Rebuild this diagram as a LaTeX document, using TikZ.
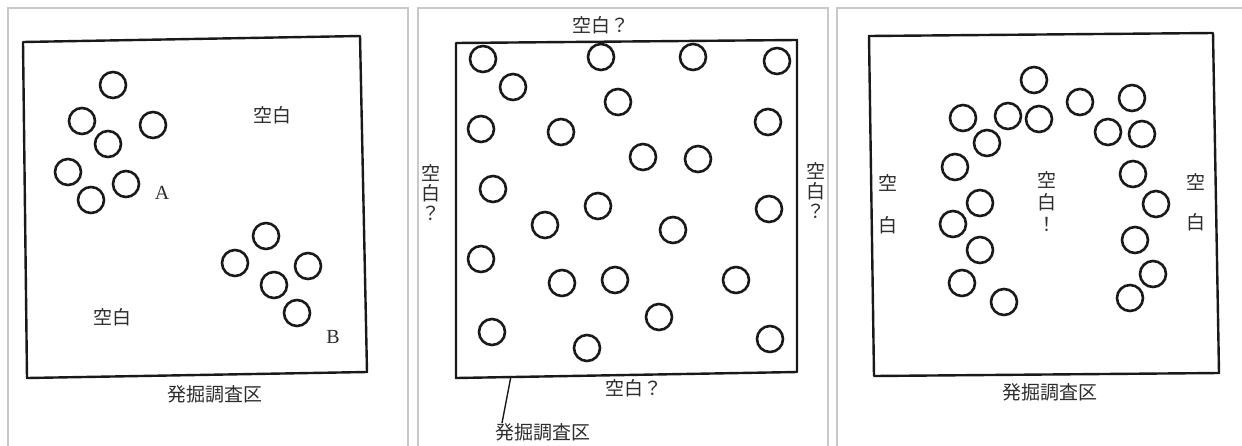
\documentclass[tikz,border=0pt]{standalone}
\usepackage{fontspec}
\newfontfamily\jpfont{Noto Sans CJK JP}
\setmainfont{Liberation Serif}
\usepackage{xcolor}
\definecolor{frameGray}{RGB}{200,200,200}
\definecolor{inkText}{RGB}{45,45,45}
\usepackage{tikz}
\usetikzlibrary{positioning,calc}
\tikzstyle{pit}=[draw=black!90, circle, line width=2.6pt, minimum size=26pt, inner sep=0pt]
\tikzstyle{area}=[draw=black!90, line width=2.4pt, line join=round]
\tikzstyle{panel}=[draw=frameGray, line width=1.2pt]
\tikzstyle{jlabel}=[text=inkText, font=\jpfont\fontsize{19pt}{22pt}\selectfont, inner sep=0pt, align=center]
\tikzstyle{letter}=[text=inkText, font=\fontsize{20pt}{22pt}\selectfont, inner sep=0pt]

\begin{document}
\begin{tikzpicture}[x=1pt, y=-1pt]
        \useasboundingbox (0,0) rectangle (1242,445);
        \fill[white] (0,0) rectangle (1242,445);
        \draw[panel] (8,446) -- (8,8) -- (408,8) -- (408,446);
        \draw[panel] (418,446) -- (418,8) -- (828,8) -- (828,446);
        \draw[panel] (837,446) -- (837,8) -- (1243,8);

        \coordinate (a-nw) at (23,42);
        \coordinate (a-ne) at (360,36);
        \coordinate (a-se) at (367,372);
        \coordinate (a-sw) at (27,378);
        \draw[area] (a-nw) -- (a-ne) -- (a-se) -- (a-sw) -- cycle;
        \foreach [count=\i] \x/\y in {113/85, 82/121, 153/125, 108/144, 68/172, 126/184, 91/200}
          \node[pit] (ga\i) at (\x,\y) {};
        \foreach [count=\i] \x/\y in {266/236, 235/263, 308/266, 274/285, 297/313}
          \node[pit] (gb\i) at (\x,\y) {};
        \node[letter] (labA) at (162,193) {A};
        \node[letter] (labB) at (333,337) {B};
        \node[jlabel] (voidA1) at (272,115) {空白};
        \node[jlabel] (voidA2) at (112,317) {空白};
        \node[jlabel] (siteA) at (215,394) {発掘調査区};

        \coordinate (b-nw) at (456,43);
        \coordinate (b-ne) at (797,40);
        \coordinate (b-se) at (797,372);
        \coordinate (b-sw) at (456,378);
        \draw[area] (b-nw) -- (b-ne) -- (b-se) -- (b-sw) -- cycle;
        \foreach [count=\i] \x/\y in {483/59, 601/57, 693/57, 777/61, 513/87, 618/102,
            481/129, 561/132, 768/122, 643/157, 698/159, 493/189, 598/206, 769/209,
            545/225, 673/230, 481/259, 562/283, 615/280, 736/280, 659/317, 492/332,
            587/348, 770/339}
          \node[pit] (gc\i) at (\x,\y) {};
        \node[jlabel] (voidB1) at (601,25) {空白？};
        \node[jlabel] (voidB2) at (634,388) {空白？};
        \node[jlabel, font=\jpfont\fontsize{19pt}{20pt}\selectfont] (voidB3) at (431,193) {空\\白\\？};
        \node[jlabel, font=\jpfont\fontsize{19pt}{20pt}\selectfont] (voidB4) at (816,191) {空\\白\\？};
        \node[jlabel] (siteB) at (543,432) {発掘調査区};
        \coordinate (leadB) at (511,376);
        \draw[black!90, line width=1.4pt] (leadB) -- (siteB.north west -| 502,0) ++(0,-2);

        \coordinate (c-nw) at (869,36);
        \coordinate (c-ne) at (1213,33);
        \coordinate (c-se) at (1219,373);
        \coordinate (c-sw) at (874,376);
        \draw[area] (c-nw) -- (c-ne) -- (c-se) -- (c-sw) -- cycle;
        \foreach [count=\i] \x/\y in {1034/80, 1080/102, 1132/98, 963/118, 1008/116,
            1039/119, 1108/132, 1142/134, 987/143, 955/167, 1133/174, 1156/204,
            980/203, 953/224, 1135/240, 980/250, 1153/274, 962/283, 1004/302, 1130/298}
          \node[pit] (gd\i) at (\x,\y) {};
        \node[jlabel, font=\jpfont\fontsize{19pt}{42pt}\selectfont] (voidC1) at (888,204) {空\\白};
        \node[jlabel, font=\jpfont\fontsize{19pt}{40pt}\selectfont] (voidC2) at (1196,202) {空\\白};
        \node[jlabel, font=\jpfont\fontsize{19pt}{22pt}\selectfont] (voidC3) at (1047,202) {空\\白\\！};
        \node[jlabel] (siteC) at (1050,392) {発掘調査区};
      \end{tikzpicture}
\end{document}
